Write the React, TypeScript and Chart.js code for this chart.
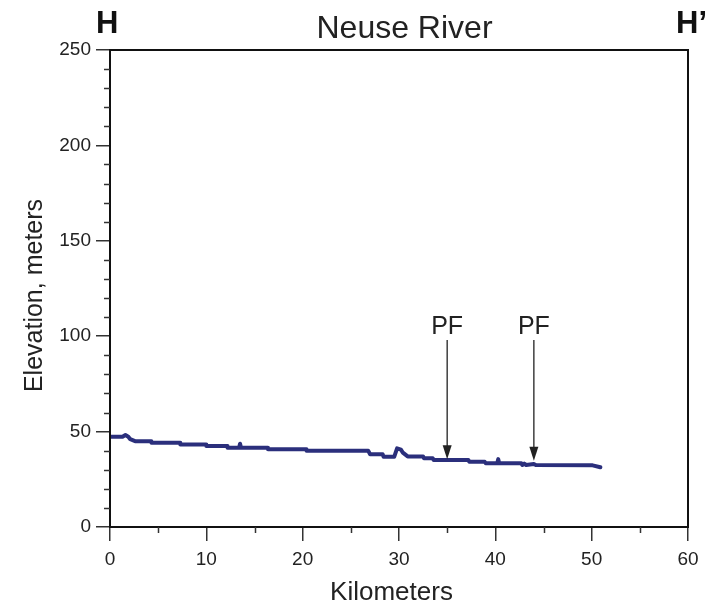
import React, { useEffect, useRef } from "react";
import { Chart, registerables } from "chart.js";

Chart.register(...registerables);

const chartTitle = "Neuse River";
const leftLabel = "H";
const rightLabel = "H\u2019";
const xTitle = "Kilometers";
const yTitle = "Elevation, meters";

const profileKm = [0, 1.3, 1.6, 1.9, 2.1, 2.6, 4.3, 4.3, 7.3, 7.3, 10.0, 10.0, 12.2, 12.2, 13.4, 13.5, 13.6, 16.4, 16.4, 20.4, 20.4, 26.8, 27.0, 28.3, 28.4, 29.5, 29.8, 30.2, 30.4, 30.9, 32.5, 32.6, 33.5, 33.6, 37.2, 37.3, 38.9, 39.0, 40.2, 40.3, 40.4, 42.7, 42.8, 43.0, 43.2, 44.0, 44.2, 50.1, 50.9];
const profileElev = [47.3, 47.3, 48.2, 47.3, 46, 45, 45, 44.2, 44.2, 43.3, 43.3, 42.5, 42.5, 41.6, 41.6, 43.6, 41.6, 41.6, 40.7, 40.7, 40, 40, 38.1, 38.1, 36.8, 36.8, 41.2, 40.5, 39, 37, 37, 36, 36, 35.1, 35.1, 34.2, 34.2, 33.4, 33.4, 35.6, 33.4, 33.4, 32.5, 33.2, 32.5, 33.0, 32.5, 32.3, 31.3];

const xTicks = [0, 10, 20, 30, 40, 50, 60];
const xMinorTicks = [5, 15, 25, 35, 45, 55];
const yTicks = [0, 50, 100, 150, 200, 250];
const yMinorTicks = [10, 20, 30, 40, 60, 70, 80, 90, 110, 120, 130, 140, 160, 170, 180, 190, 210, 220, 230, 240];

const pfLabels = ["PF", "PF"];
const pfKm = [35, 44];
const pfTop = [98, 98];
const pfTip = [35.5, 34.7];

const FONT = "'Liberation Sans', Arial, Helvetica, sans-serif";

export default function App() {
  const ref = useRef<HTMLCanvasElement | null>(null);

  useEffect(() => {
    if (!ref.current) return;
    const data = profileKm.map((x, i) => ({ x, y: profileElev[i] }));

    const overlay = {
      id: "overlay",
      afterDatasetsDraw(chart: any) {
        const ctx = chart.ctx;
        const xs = chart.scales.x;
        const ys = chart.scales.y;
        const a = chart.chartArea;
        ctx.save();
        // frame
        ctx.strokeStyle = "#111";
        ctx.lineWidth = 2;
        ctx.strokeRect(a.left, a.top, a.right - a.left, a.bottom - a.top);
        // minor ticks
        ctx.strokeStyle = "#333";
        ctx.lineWidth = 1.5;
        xMinorTicks.forEach((v) => {
          const px = Math.round(xs.getPixelForValue(v)) + 0.5;
          ctx.beginPath();
          ctx.moveTo(px, a.bottom);
          ctx.lineTo(px, a.bottom + 6);
          ctx.stroke();
        });
        yMinorTicks.forEach((v) => {
          const py = Math.round(ys.getPixelForValue(v)) + 0.5;
          ctx.beginPath();
          ctx.moveTo(a.left, py);
          ctx.lineTo(a.left - 6, py);
          ctx.stroke();
        });
        // arrows
        pfKm.forEach((k, i) => {
          const px = xs.getPixelForValue(k);
          const top = ys.getPixelForValue(pfTop[i]);
          const tip = ys.getPixelForValue(pfTip[i]);
          ctx.strokeStyle = "#222";
          ctx.lineWidth = 1.3;
          ctx.beginPath();
          ctx.moveTo(px, top);
          ctx.lineTo(px, tip - 12);
          ctx.stroke();
          ctx.fillStyle = "#222";
          ctx.beginPath();
          ctx.moveTo(px - 4.5, tip - 14);
          ctx.lineTo(px + 4.5, tip - 14);
          ctx.lineTo(px, tip);
          ctx.closePath();
          ctx.fill();
          ctx.font = `25px ${FONT}`;
          ctx.textAlign = "center";
          ctx.textBaseline = "alphabetic";
          ctx.fillStyle = "#222";
          ctx.fillText(pfLabels[i], px, top - 6);
        });
        // titles
        ctx.fillStyle = "#222";
        ctx.textBaseline = "alphabetic";
        ctx.textAlign = "center";
        ctx.font = `32px ${FONT}`;
        ctx.fillText(chartTitle, 404.5, 38);
        ctx.fillStyle = "#111";
        ctx.font = `bold 31px ${FONT}`;
        ctx.textAlign = "left";
        ctx.fillText(leftLabel, 96, 33);
        ctx.fillText(rightLabel, 676, 33);
        ctx.fillStyle = "#222";
        ctx.font = `26px ${FONT}`;
        ctx.textAlign = "center";
        ctx.fillText(xTitle, 391.5, 600);
        ctx.font = `25px ${FONT}`;
        ctx.translate(42, 295.5);
        ctx.rotate(-Math.PI / 2);
        ctx.fillText(yTitle, 0, 0);
        ctx.restore();
      },
    };

    const chart = new Chart(ref.current, {
      type: "line",
      data: {
        datasets: [
          {
            data,
            borderColor: "#2b2f7c",
            borderWidth: 4,
            borderJoinStyle: "round",
            borderCapStyle: "round",
            pointRadius: 0,
            tension: 0,
            fill: false,
          },
        ],
      },
      options: {
        animation: false,
        responsive: false,
        devicePixelRatio: 1,
        layout: { padding: { top: 50, right: 18, left: 0, bottom: 0 } },
        plugins: { legend: { display: false }, tooltip: { enabled: false } },
        scales: {
          x: {
            type: "linear",
            min: 0,
            max: 60,
            afterFit: (s: any) => {
              s.height = 83;
            },
            afterBuildTicks: (s: any) => {
              s.ticks = xTicks.map((v) => ({ value: v }));
            },
            grid: { drawOnChartArea: false, tickLength: 14, color: "#333", lineWidth: 1.5 },
            border: { color: "#111", width: 2 },
            ticks: { font: { family: FONT, size: 19 }, color: "#222", padding: 7, maxRotation: 0 },
          },
          y: {
            type: "linear",
            min: 0,
            max: 250,
            afterFit: (s: any) => {
              s.width = 110;
            },
            afterBuildTicks: (s: any) => {
              s.ticks = yTicks.map((v) => ({ value: v }));
            },
            grid: { drawOnChartArea: false, tickLength: 14, color: "#333", lineWidth: 1.5 },
            border: { color: "#111", width: 2 },
            ticks: { font: { family: FONT, size: 19 }, color: "#222", padding: 5 },
          },
        },
      },
      plugins: [overlay],
    });
    return () => chart.destroy();
  }, []);

  return (
    <div style={{ position: "absolute", left: 0, top: 0, width: 706, height: 610, background: "#fff" }}>
      <canvas ref={ref} width={706} height={610} />
    </div>
  );
}
